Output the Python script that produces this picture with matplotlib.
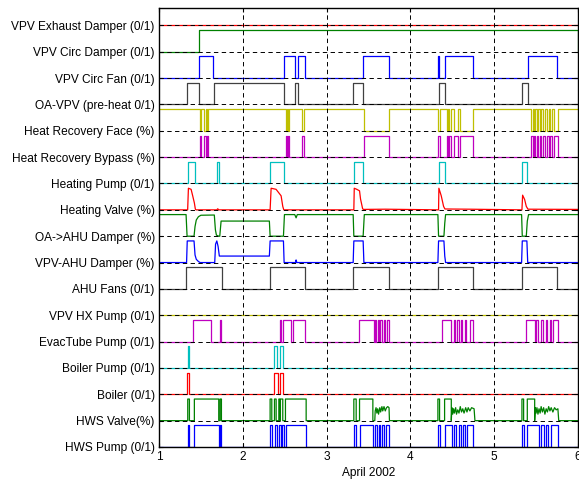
import numpy as np
import matplotlib.pyplot as plt

plt.rcParams["font.family"] = ["Liberation Sans", "DejaVu Sans"]
plt.rcParams["font.size"] = 8.6

# row labels, top to bottom
labels = ["VPV Exhaust Damper (0/1)", "VPV Circ Damper (0/1)", "VPV Circ Fan (0/1)",
          "OA-VPV (pre-heat 0/1)", "Heat Recovery Face (%)", "Heat Recovery Bypass (%)",
          "Heating Pump (0/1)", "Heating Valve (%)", "OA->AHU Damper (%)",
          "VPV-AHU Damper (%)", "AHU Fans (0/1)", "VPV HX Pump (0/1)",
          "EvacTube Pump (0/1)", "Boiler Pump (0/1)", "Boiler (0/1)",
          "HWS Valve(%)", "HWS Pump (0/1)"]

B = (0, 0, 1); G = (0, 0.5, 0); R = (1, 0, 0); C = (0, 0.75, 0.75)
M = (0.75, 0, 0.75); Y = (0.75, 0.75, 0); K = (0.25, 0.25, 0.25)
colors = [R, G, B, K, Y, M, C, R, G, B, K, Y, M, C, R, G, B]

# on-intervals (day of April 2002) for on/off signals
exhaust_damper = []
circ_damper = [(1.482, 6.0)]
circ_fan = [(1.482, 1.645), (2.489, 2.624), (2.664, 2.744), (3.436, 3.743),
            (4.330, 4.338), (4.412, 4.746), (5.403, 5.749)]
oa_vpv = [(1.331, 1.482), (1.653, 2.489), (2.624, 2.656), (3.321, 3.436),
          (4.336, 4.412), (5.331, 5.403)]
bypass = [(1.490, 1.505), (1.542, 1.555), (1.570, 1.585), (2.517, 2.527), (2.535, 2.550),
          (2.708, 2.730), (3.452, 3.743), (4.332, 4.348), (4.436, 4.448), (4.464, 4.480),
          (4.519, 4.571), (4.587, 4.746), (5.443, 5.459), (5.475, 5.491), (5.506, 5.522),
          (5.542, 5.562), (5.586, 5.606), (5.630, 5.650), (5.670, 5.694), (5.717, 5.761)]
heating_pump = [(1.343, 1.434), (1.693, 1.721), (2.326, 2.489), (3.325, 3.432),
                (4.336, 4.408), (5.331, 5.391)]
ahu_fans = [(1.323, 1.753), (2.326, 2.748), (3.321, 3.743), (4.332, 4.746), (5.331, 5.749)]
hx_pump = []
evac_pump = [(1.402, 1.621), (1.733, 1.745), (2.449, 2.460), (2.477, 2.577), (2.604, 2.748),
             (3.384, 3.560), (3.580, 3.592), (3.612, 3.624), (3.640, 3.656), (3.680, 3.695),
             (3.719, 3.743), (4.380, 4.488), (4.519, 4.535), (4.559, 4.575), (4.599, 4.615),
             (4.647, 4.667), (4.706, 4.746), (5.375, 5.483), (5.502, 5.522), (5.562, 5.582),
             (5.614, 5.630), (5.662, 5.682), (5.702, 5.761)]
boiler_pump = [(1.343, 1.355), (2.378, 2.409), (2.449, 2.477)]
boiler = [(1.339, 1.355), (2.378, 2.417), (2.449, 2.477)]
hws_pump = [(1.343, 1.363), (1.422, 1.713), (1.729, 1.745), (2.326, 2.346), (2.389, 2.413),
            (2.437, 2.457), (2.469, 2.490), (2.517, 2.756), (3.325, 3.353), (3.393, 3.552),
            (3.580, 3.600), (3.624, 3.640), (3.664, 3.684), (3.703, 3.743), (4.328, 4.348),
            (4.408, 4.499), (4.519, 4.547), (4.575, 4.599), (4.627, 4.651), (4.675, 4.746),
            (5.331, 5.351), (5.395, 5.535), (5.562, 5.590), (5.622, 5.646), (5.682, 5.761)]
hws_valve_full = [(1.343, 1.363), (1.422, 1.713), (1.729, 1.745), (2.326, 2.346),
                  (2.378, 2.398), (2.430, 2.440), (2.449, 2.477), (2.509, 2.756),
                  (3.325, 3.353), (3.393, 3.552), (4.328, 4.348), (4.408, 4.488),
                  (5.331, 5.351), (5.395, 5.483)]
# modulating part of the HWS valve (day, fraction open)
hws_valve_mod = [(3.575, 0.0), (3.580, 0.45), (3.590, 0.6), (3.600, 0.35), (3.610, 0.55),
                 (3.620, 0.3), (3.635, 0.6), (3.645, 0.4), (3.660, 0.65), (3.670, 0.45),
                 (3.685, 0.65), (3.700, 0.45), (3.715, 0.6), (3.730, 0.65), (3.745, 0.6),
                 (3.750, 0.0),
                 (4.495, 0.6), (4.505, 0.3), (4.515, 0.55), (4.525, 0.35), (4.540, 0.6),
                 (4.550, 0.3), (4.565, 0.5), (4.580, 0.35), (4.595, 0.65), (4.610, 0.4),
                 (4.625, 0.55), (4.640, 0.35), (4.660, 0.6), (4.675, 0.4), (4.690, 0.6),
                 (4.710, 0.45), (4.730, 0.6), (4.760, 0.55), (4.770, 0.0),
                 (5.490, 0.6), (5.500, 0.35), (5.510, 0.6), (5.522, 0.3), (5.535, 0.55),
                 (5.548, 0.35), (5.560, 0.65), (5.575, 0.4), (5.590, 0.6), (5.605, 0.3),
                 (5.620, 0.55), (5.635, 0.4), (5.650, 0.65), (5.665, 0.45), (5.680, 0.6),
                 (5.700, 0.4), (5.720, 0.6), (5.740, 0.5), (5.760, 0.55), (5.770, 0.0)]

# analog signals (day, fraction)
heating_valve = [(1.0, 0.0), (1.342, 0.0), (1.351, 1.0), (1.383, 0.95), (1.402, 0.65),
                 (1.422, 0.32), (1.434, 0.03), (1.442, 0.0), (1.690, 0.0), (1.701, 0.05),
                 (1.712, 0.0), (2.326, 0.0), (2.338, 1.0), (2.397, 0.95), (2.457, 0.65),
                 (2.477, 0.16), (2.489, 0.0), (3.325, 0.0), (3.330, 1.0), (3.360, 0.95),
                 (3.393, 0.88), (3.405, 0.5), (3.430, 0.05), (3.440, 0.02), (3.700, 0.03),
                 (4.336, 0.0), (4.340, 1.0), (4.368, 0.65), (4.396, 0.16), (4.412, 0.04),
                 (4.700, 0.03), (5.331, 0.0), (5.339, 0.68), (5.363, 0.48), (5.383, 0.16),
                 (5.403, 0.03), (6.0, 0.02)]
oa_ahu = [(1.0, 1.0), (1.323, 1.0), (1.335, 0.0), (1.418, 0.0), (1.430, 0.45), (1.445, 0.75),
          (1.470, 0.9), (1.500, 0.97), (1.660, 0.98), (1.673, 0.3), (1.685, 0.05), (1.713, 0.0),
          (1.725, 0.0), (1.741, 0.7), (2.317, 0.7), (2.326, 0.0), (2.485, 0.0), (2.497, 1.0),
          (2.620, 1.0), (2.636, 0.85), (2.650, 1.0), (3.317, 1.0), (3.325, 0.0), (3.436, 0.0),
          (3.450, 1.0), (4.328, 1.0), (4.336, 0.0), (4.400, 0.0), (4.410, 0.6), (4.420, 1.0),
          (5.327, 1.0), (5.335, 0.0), (5.383, 0.0), (5.395, 0.7), (5.410, 1.0), (6.0, 1.0)]
vpv_ahu = [(1.0, 0.0), (1.329, 0.0), (1.337, 1.0), (1.418, 1.0), (1.430, 0.35), (1.445, 0.15),
           (1.470, 0.05), (1.490, 0.0), (1.665, 0.0), (1.675, 0.85), (1.690, 1.0), (1.705, 0.75),
           (1.720, 0.3), (2.317, 0.3), (2.326, 1.0), (2.485, 1.0), (2.493, 0.0), (2.630, 0.0),
           (2.636, 0.12), (2.645, 0.0), (3.317, 0.0), (3.325, 1.0), (3.436, 1.0), (3.445, 0.0),
           (4.328, 0.0), (4.336, 1.0), (4.400, 1.0), (4.410, 0.3), (4.420, 0.0), (5.327, 0.0),
           (5.335, 1.0), (5.390, 1.0), (5.400, 0.0), (6.0, 0.0)]


def steps(intervals):
    x = [1.0]
    y = [0.0]
    for a, b in intervals:
        x += [a, a, b, b]
        y += [0, 1, 1, 0]
    x.append(6.0)
    y.append(0.0)
    return np.array(x), np.array(y)


def pts(points):
    a = np.array(points)
    return a[:, 0], a[:, 1]


bx, by = steps(bypass)
vx, vy = steps(hws_valve_full)
mx, my = pts(hws_valve_mod)
hx = np.concatenate([vx, mx])
hy = np.concatenate([vy, my])
order = np.argsort(hx, kind="stable")

series = [steps(exhaust_damper), steps(circ_damper), steps(circ_fan), steps(oa_vpv),
          (bx, 1 - by), (bx, by), steps(heating_pump), pts(heating_valve), pts(oa_ahu),
          pts(vpv_ahu), steps(ahu_fans), steps(hx_pump), steps(evac_pump),
          steps(boiler_pump), steps(boiler), (hx[order], hy[order]), steps(hws_pump)]

AMP = 0.82
n = len(labels)

fig = plt.figure(figsize=(5.79, 4.79), dpi=100)
ax = fig.add_axes([159 / 579, 32 / 479, 419 / 579, 439 / 479])

for i, (x, y) in enumerate(series):
    base = n - 1 - i
    ax.plot(x, base + AMP * y, color=colors[i], lw=0.9, zorder=2)

ax.set_xlim(1, 6)
ax.set_ylim(0, 16.66)
ax.set_xticks([1, 2, 3, 4, 5, 6])
ax.set_yticks(range(n))
ax.set_yticklabels(labels[::-1])
ax.set_xlabel("April 2002", labelpad=3)
ax.tick_params(direction="in", top=True, right=True, length=3, pad=3)
ax.set_axisbelow(False)
ax.grid(True, color="k", lw=0.7, dashes=(4.5, 3.5))
for s in ax.spines.values():
    s.set_linewidth(1.0)

fig.savefig("out.png", dpi=100)
